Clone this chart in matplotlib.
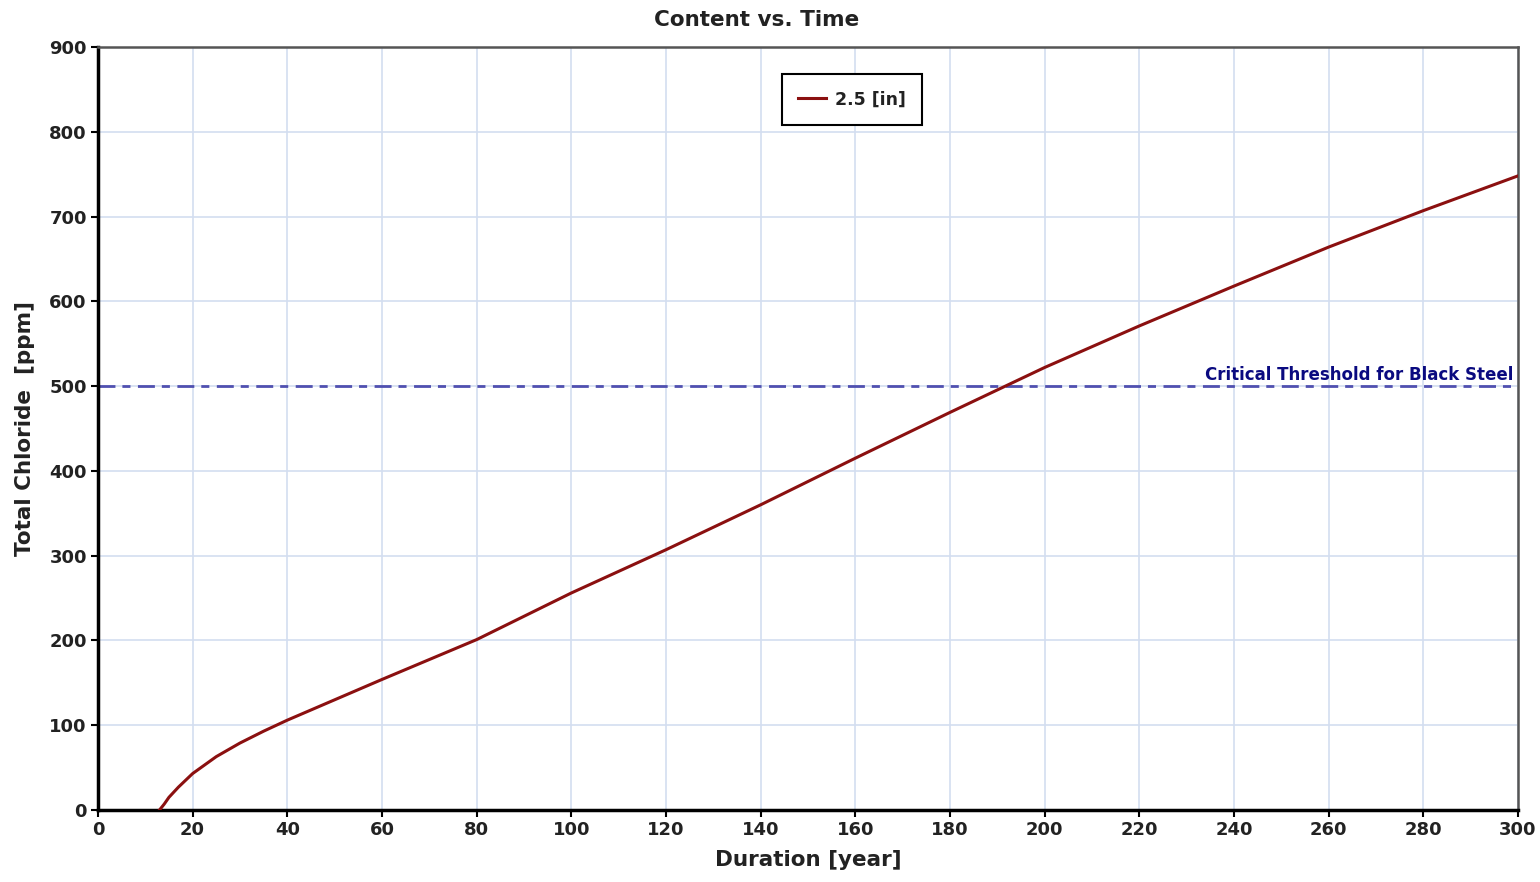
import matplotlib
matplotlib.use('Agg')
import matplotlib.pyplot as plt

# curve
duration = [13, 14, 15, 17, 20, 25, 30, 35, 40, 50, 60, 80, 100, 120, 140,
            160, 180, 200, 220, 240, 260, 280, 300]
chloride = [0, 7, 15, 27, 43, 63, 79, 93, 106, 130, 154, 201, 256, 307, 360,
            415, 469, 522, 571, 618, 664, 707, 748]
series_label = "2.5 [in]"

threshold = 500
threshold_label = "Critical Threshold for Black Steel"

x_ticks = list(range(0, 301, 20))
y_ticks = list(range(0, 901, 100))

plt.rcParams['font.family'] = ['DejaVu Sans']
plt.rcParams['font.weight'] = 'bold'

fig = plt.figure(figsize=(15.4, 8.82), dpi=100)
ax = fig.add_axes([0.0636, 0.0816, 0.9221, 0.8651])

ax.plot(duration, chloride, color="#8b1010", linewidth=2.2, label=series_label,
        zorder=3, solid_joinstyle='round')

ax.axhline(threshold, color="#5050b0", linewidth=2, dashes=(6.1, 2.5, 2.9, 2.7),
           zorder=2)
ax.text(299, threshold + 3, threshold_label, color="#0a0a80", fontsize=12,
        fontweight='bold', ha='right', va='bottom')

ax.set_xlim(0, 300)
ax.set_ylim(0, 900)
ax.set_xticks(x_ticks)
ax.set_yticks(y_ticks)
ax.tick_params(labelsize=13, length=5, width=1.5, colors='black', pad=3)
for lab in ax.get_xticklabels() + ax.get_yticklabels():
    lab.set_fontweight('bold')
    lab.set_color('#222222')

ax.grid(True, color="#d3def0", linewidth=1.2)
ax.set_axisbelow(True)

for side in ['left', 'bottom']:
    ax.spines[side].set_linewidth(2.5)
    ax.spines[side].set_color('black')
for side in ['top', 'right']:
    ax.spines[side].set_linewidth(1.8)
    ax.spines[side].set_color('#555555')

fig.text(0.491, 0.977, "Content vs. Time", fontsize=15.5, fontweight='bold',
         color='#222222', ha='center', va='center')
ax.set_xlabel("Duration [year]", fontsize=15.5, fontweight='bold', color='#222222',
              labelpad=8)
ax.set_ylabel("Total Chloride  [ppm]", fontsize=15.5, fontweight='bold',
              color='#222222', labelpad=10)

leg = ax.legend(loc='upper center', bbox_to_anchor=(0.531, 0.9646), fancybox=False,
                shadow=False, framealpha=1, edgecolor='black', fontsize=12.5,
                handlelength=1.6, handletextpad=0.5, borderpad=0.95,
                borderaxespad=0)
leg.get_frame().set_linewidth(1.5)
for t in leg.get_texts():
    t.set_fontweight('bold')
    t.set_color('#222222')

fig.savefig("out.png", dpi=100)
